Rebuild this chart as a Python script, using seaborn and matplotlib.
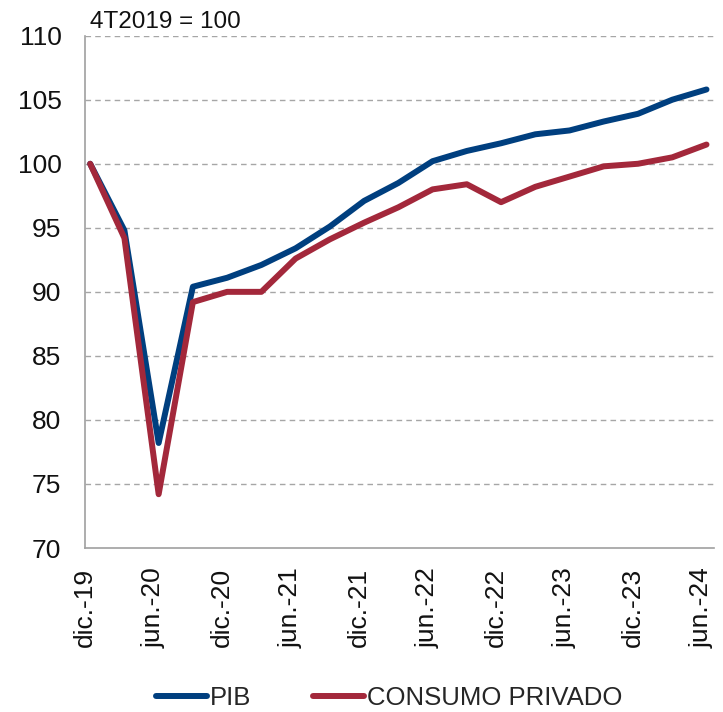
import numpy as np
import pandas as pd
import seaborn as sns
import matplotlib.pyplot as plt

# quarters dic-19 ... jun-24 (4T2019 = 100)
quarters = ['dic.-19', 'mar.-20', 'jun.-20', 'sep.-20', 'dic.-20', 'mar.-21', 'jun.-21',
            'sep.-21', 'dic.-21', 'mar.-22', 'jun.-22', 'sep.-22', 'dic.-22', 'mar.-23',
            'jun.-23', 'sep.-23', 'dic.-23', 'mar.-24', 'jun.-24']
pib = [100.0, 94.8, 78.2, 90.4, 91.1, 92.1, 93.4, 95.1, 97.1, 98.5, 100.2, 101.0,
       101.6, 102.3, 102.6, 103.3, 103.9, 105.0, 105.8]
consumo = [100.0, 94.2, 74.2, 89.2, 90.0, 90.0, 92.6, 94.1, 95.4, 96.6, 98.0, 98.4,
           97.0, 98.2, 99.0, 99.8, 100.0, 100.5, 101.5]
tick_labels = quarters[::2]

sns.set_theme(style='white')
plt.rcParams['font.family'] = ['Liberation Sans', 'DejaVu Sans']

df = pd.DataFrame({'pos': np.arange(len(quarters)) + 0.15,
                   'PIB': pib, 'CONSUMO PRIVADO': consumo})
df = df.melt(id_vars='pos', var_name='serie', value_name='valor')

fig = plt.figure(figsize=(7.23, 7.12), dpi=100)
ax = fig.add_axes([0.1176, 0.2303, 0.87, 0.7196])

for y in range(75, 111, 5):
    ax.axhline(y, color='#a6a6a6', lw=1, ls=(0, (4, 3)), zorder=0)

sns.lineplot(data=df, x='pos', y='valor', hue='serie', ax=ax,
             palette={'PIB': '#003f7f', 'CONSUMO PRIVADO': '#a3283b'},
             linewidth=4.3, legend=False, zorder=3)

ax.set_xlim(0, 18.37)
ax.set_ylim(70, 110)
ax.set_yticks(range(70, 111, 5))
ax.set_xticks(range(0, 19, 2))
ax.set_xticklabels(tick_labels, rotation=90, va='top', ha='center')
ax.set_xlabel('')
ax.set_ylabel('')
ax.tick_params(axis='y', length=0, pad=17, labelsize=19, labelcolor='#111111')
ax.tick_params(axis='x', direction='in', length=6, width=1, color='#a0a0a0',
               pad=14, labelsize=19, labelcolor='#111111')
for s in ['top', 'right']:
    ax.spines[s].set_visible(False)
for s in ['left', 'bottom']:
    ax.spines[s].set_color('#a0a0a0')
    ax.spines[s].set_linewidth(1.2)

ax.text(0.008, 1.005, '4T2019 = 100', transform=ax.transAxes, fontsize=17.5,
        ha='left', va='bottom', color='#111111')

handles = [plt.Line2D([], [], color='#003f7f', lw=4.3),
           plt.Line2D([], [], color='#a3283b', lw=4.3)]
fig.legend(handles, ['PIB', 'CONSUMO PRIVADO'], loc='center', ncol=2,
           bbox_to_anchor=(0.538, 0.02), frameon=False, fontsize=18.5,
           handlelength=2.0, handletextpad=0.1, columnspacing=2.4)

fig.savefig('out.png', dpi=100)
